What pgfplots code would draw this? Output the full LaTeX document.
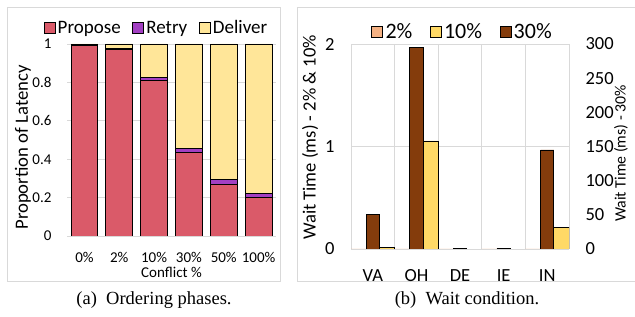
\documentclass[border=0pt]{standalone}
\usepackage{pgfplots}
\pgfplotsset{compat=1.18}
\usepackage{fontspec}
\setmainfont{Carlito}
\newfontfamily\timesfont{Liberation Serif}
\definecolor{propose}{HTML}{DA5A69}
\definecolor{retry}{HTML}{A23FC2}
\definecolor{deliver}{HTML}{FFE699}
\definecolor{ctwo}{HTML}{F4B183}
\definecolor{cten}{HTML}{FFD966}
\definecolor{cthirty}{HTML}{843C0C}
\definecolor{gridc}{HTML}{D9D9D9}
\pgfplotsset{
  sqlegend/.style={/pgfplots/legend image code/.code={\draw[##1,draw=black,line width=0.6bp] (0bp,-5.5bp) rectangle (11bp,5.5bp);}},
}
\begin{document}
\begin{tikzpicture}
\useasboundingbox (0bp,0bp) rectangle (635bp,317bp);
\draw[gridc, line width=1bp] (7bp,35bp) rectangle (280bp,309bp);
\draw[gridc, line width=1bp] (640bp,309bp) -- (297bp,309bp) -- (297bp,35bp) -- (640bp,35bp);
\node[font=\timesfont\fontsize{18.5bp}{20bp}\selectfont] at (154bp,17bp) {(a)\ \ Ordering phases.};
\node[font=\timesfont\fontsize{18.5bp}{20bp}\selectfont] at (467bp,17bp) {(b)\ \ Wait condition.};
% axis titles
\node[rotate=90, font=\fontsize{18.7bp}{20bp}\selectfont] at (23bp,169.5bp) {Proportion of Latency};
\node[font=\fontsize{15bp}{17bp}\selectfont] at (171.5bp,45bp) {Conflict \%};
\node[rotate=90, font=\fontsize{18.6bp}{20bp}\selectfont] at (310bp,179.5bp) {Wait Time (ms) - 2\% \& 10\%};
\node[rotate=90, font=\fontsize{15.8bp}{18bp}\selectfont] at (621bp,163.5bp) {Wait Time (ms) - 30\%};

% ---------- left chart ----------
\begin{axis}[
  at={(67bp,81bp)}, anchor=south west,
  width=209bp, height=192bp, scale only axis,
  ybar stacked, bar width=0.77,
  xmin=-0.5, xmax=5.5, ymin=0, ymax=1,
  xtick={0,1,2,3,4,5},
  xticklabels={0\%,2\%,10\%,30\%,50\%,100\%},
  ytick={0,0.2,0.4,0.6,0.8,1},
  yticklabels={0,0.2,0.4,0.6,0.8,1},
  ymajorgrids, grid style={gridc, line width=0.8bp},
  axis line style={draw=none},
  major tick length=0,
  tick label style={font=\fontsize{15bp}{17bp}\selectfont},
  yticklabel style={xshift=-12bp},
  xticklabel style={yshift=-13bp},
  legend style={at={(rel axis cs:-0.112,1.083)}, anchor=west, draw=none, fill=none,
    inner sep=0pt, outer sep=0pt,
    legend columns=-1, font=\fontsize{19bp}{21bp}\selectfont,
    nodes={inner xsep=2.5bp, inner ysep=1bp},
    /tikz/every even column/.append style={column sep=9bp}},
]
\addplot[fill=propose, draw=black, line width=0.7bp, sqlegend] coordinates {(0,0.993) (1,0.970) (2,0.812) (3,0.435) (4,0.269) (5,0.199)};
\addlegendentry{Propose}
\addplot[fill=retry, draw=black, line width=0.7bp, sqlegend] coordinates {(0,0.003) (1,0.005) (2,0.012) (3,0.021) (4,0.026) (5,0.023)};
\addlegendentry{Retry}
\addplot[fill=deliver, draw=black, line width=0.7bp, sqlegend] coordinates {(0,0.004) (1,0.025) (2,0.176) (3,0.544) (4,0.705) (5,0.778)};
\addlegendentry{Deliver}
\end{axis}

% ---------- right chart, primary axis ----------
\begin{axis}[
  at={(351bp,68bp)}, anchor=south west,
  width=218bp, height=205bp, scale only axis,
  xmin=-0.5, xmax=4.5, ymin=0, ymax=2,
  xtick={0,1,2,3,4},
  xticklabels={VA,OH,DE,IE,IN},
  minor xtick={-0.5,0.5,1.5,2.5,3.5,4.5},
  ytick={0,1,2},
  ymajorgrids, xminorgrids,
  grid style={gridc, line width=0.8bp},
  minor grid style={gridc, line width=0.8bp},
  axis line style={draw=none},
  major tick length=0, minor tick length=0,
  /pgf/number format/assume math mode=true,
  tick label style={font=\fontsize{18.5bp}{20bp}\selectfont},
  yticklabel style={xshift=-13bp},
  xticklabel style={yshift=-17bp},
]
\addplot[ybar, bar width=0.35, bar shift=-0.325, fill=ctwo, draw=none] coordinates {(0,0) (1,0) (2,0) (3,0) (4,0)};
\addplot[ybar, bar width=0.35, bar shift=0.325, fill=cten, draw=black, line width=0.7bp] coordinates {(0,0.017) (1,1.055) (4,0.21)};
\end{axis}

% ---------- right chart, secondary axis ----------
\begin{axis}[
  at={(351bp,68bp)}, anchor=south west,
  width=218bp, height=205bp, scale only axis,
  xmin=-0.5, xmax=4.5, ymin=0, ymax=300,
  ytick={0,50,100,150,200,250,300},
  axis y line*=right,
  axis x line=none,
  axis line style={draw=none},
  major tick length=0,
  /pgf/number format/assume math mode=true,
  tick label style={font=\fontsize{18.5bp}{20bp}\selectfont},
  yticklabel style={xshift=13bp},
  legend style={at={(rel axis cs:0.094,1.059)}, anchor=west, draw=none, fill=none,
    inner sep=0pt, outer sep=0pt,
    legend columns=-1, font=\fontsize{22bp}{24bp}\selectfont,
    nodes={inner xsep=2.5bp, inner ysep=1bp},
    /tikz/every even column/.append style={column sep=15bp}},
]
\addlegendimage{sqlegend, fill=ctwo}
\addlegendentry{2\%}
\addlegendimage{sqlegend, fill=cten}
\addlegendentry{10\%}
\addplot[ybar, bar width=0.305, bar shift=0, fill=cthirty, draw=black, line width=0.7bp, sqlegend] coordinates {(0,50) (1,295) (2,1) (3,1) (4,145)};
\addlegendentry{30\%}
\end{axis}
\end{tikzpicture}
\end{document}
